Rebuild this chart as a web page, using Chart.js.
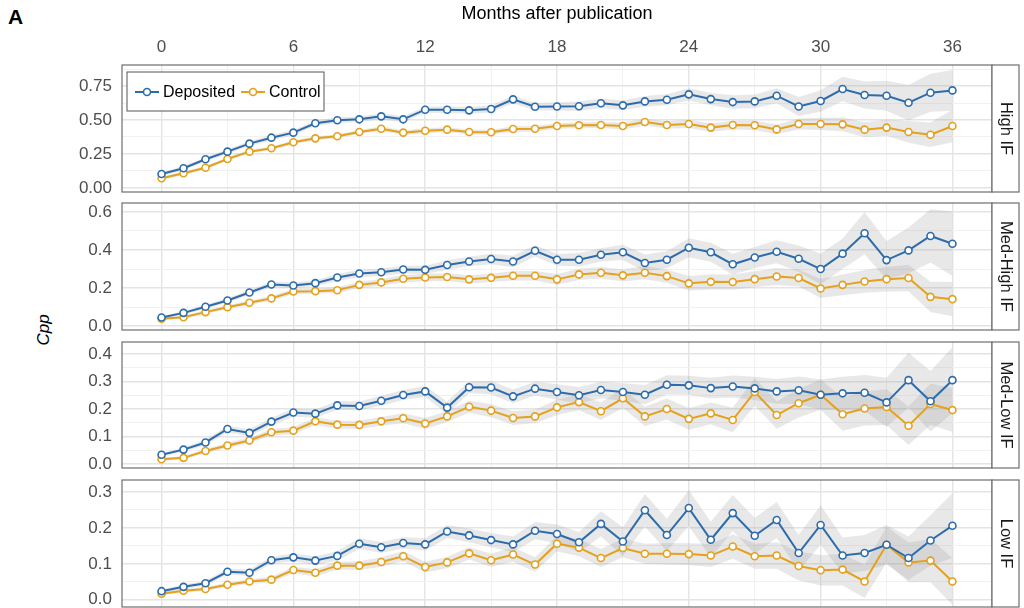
<!DOCTYPE html>
<html>
<head>
<meta charset="utf-8">
<script src="https://cdn.jsdelivr.net/npm/chart.js@4"></script>
<style>
  body { margin: 0; background: #fff; width: 1024px; height: 608px; overflow: hidden; position: relative; font-family: "Liberation Sans", Arial, sans-serif; }
  canvas { position: absolute; left: 0; }
  #tag { position: absolute; left: 8px; top: 5px; font-weight: bold; font-size: 21px; color: #000; }
  #ylab { position: absolute; left: 44px; top: 330px; font-style: italic; font-size: 17px; color: #000;
          transform: translate(-50%, -50%) rotate(-90deg); white-space: nowrap; }
</style>
</head>
<body>
<div id="tag">A</div>
<div id="ylab">Cpp</div>
<canvas id="p1" width="1024" height="200" style="top:0px"></canvas>
<canvas id="p2" width="1024" height="143" style="top:195px"></canvas>
<canvas id="p3" width="1024" height="142" style="top:334px"></canvas>
<canvas id="p4" width="1024" height="143" style="top:472px"></canvas>
<script>
// months after publication
const months = [0,1,2,3,4,5,6,7,8,9,10,11,12,13,14,15,16,17,18,19,20,21,22,23,24,25,26,27,28,29,30,31,32,33,34,35,36];
const xTicks = [0,3,6,9,12,15,18,21,24,27,30,33,36];
const xLabels = ['0','','6','','12','','18','','24','','30','','36'];

// High IF
const highDep = [0.103,0.145,0.211,0.267,0.326,0.370,0.407,0.476,0.498,0.505,0.527,0.505,0.576,0.576,0.571,0.581,0.652,0.598,0.600,
  0.601,0.623,0.608,0.637,0.649,0.689,0.654,0.632,0.637,0.679,0.600,0.640,0.728,0.684,0.679,0.627,0.701,0.718];
const highDepErr = [0.015,0.015,0.015,0.018,0.018,0.02,0.02,0.02,0.02,0.02,0.022,0.022,0.022,0.025,0.025,0.025,0.028,0.028,0.03,
  0.035,0.035,0.035,0.04,0.04,0.045,0.045,0.05,0.05,0.055,0.07,0.08,0.09,0.1,0.11,0.13,0.14,0.15];
const highCtl = [0.071,0.108,0.149,0.213,0.267,0.292,0.336,0.365,0.380,0.412,0.436,0.407,0.421,0.429,0.412,0.410,0.434,0.436,0.456,
  0.461,0.463,0.456,0.485,0.463,0.471,0.444,0.463,0.461,0.431,0.471,0.471,0.468,0.429,0.444,0.412,0.392,0.456];
const highCtlErr = [0.012,0.012,0.012,0.012,0.012,0.012,0.014,0.014,0.015,0.015,0.016,0.018,0.018,0.018,0.018,0.018,0.02,0.02,0.02,
  0.022,0.022,0.025,0.025,0.028,0.03,0.03,0.032,0.035,0.035,0.04,0.045,0.05,0.055,0.06,0.08,0.09,0.12];

// Med-High IF
const mhDep = [0.046,0.070,0.102,0.135,0.177,0.219,0.214,0.226,0.256,0.277,0.283,0.298,0.296,0.321,0.340,0.353,0.340,0.396,0.349,
  0.349,0.375,0.388,0.332,0.349,0.412,0.388,0.325,0.361,0.391,0.354,0.300,0.381,0.488,0.347,0.398,0.474,0.433];
const mhDepErr = [0.008,0.01,0.01,0.012,0.012,0.015,0.015,0.015,0.018,0.02,0.02,0.02,0.022,0.025,0.025,0.028,0.03,
  0.03,0.03,0.035,0.035,0.04,0.045,0.045,0.05,0.05,0.055,0.055,0.06,0.07,0.08,0.08,0.11,0.1,0.12,0.14,0.17];
const mhCtl = [0.039,0.047,0.074,0.100,0.123,0.146,0.182,0.184,0.189,0.217,0.230,0.249,0.256,0.258,0.246,0.254,0.265,0.265,0.246,
  0.272,0.281,0.267,0.281,0.263,0.225,0.233,0.232,0.247,0.261,0.253,0.198,0.217,0.235,0.247,0.253,0.154,0.142];
const mhCtlErr = [0.006,0.008,0.01,0.01,0.012,0.012,0.014,0.014,0.015,0.016,0.018,0.02,0.02,0.02,0.022,0.022,0.025,
  0.025,0.028,0.03,0.03,0.032,0.035,0.035,0.038,0.04,0.04,0.042,0.045,0.045,0.05,0.055,0.06,0.065,0.07,0.08,0.09];

// Med-Low IF
const mlDep = [0.033,0.052,0.078,0.127,0.113,0.154,0.187,0.183,0.213,0.211,0.230,0.251,0.264,0.205,0.279,0.278,0.246,0.274,0.262,
  0.250,0.269,0.262,0.252,0.288,0.286,0.276,0.282,0.275,0.264,0.268,0.252,0.257,0.259,0.224,0.305,0.228,0.305];
const mlDepErr = [0.006,0.008,0.01,0.012,0.012,0.014,0.015,0.015,0.016,0.016,0.018,0.018,0.02,0.022,0.022,0.024,0.025,
  0.025,0.028,0.03,0.03,0.032,0.035,0.035,0.035,0.038,0.04,0.042,0.045,0.05,0.055,0.06,0.065,0.09,0.1,0.11,0.12];
const mlCtl = [0.017,0.022,0.047,0.067,0.085,0.115,0.121,0.155,0.143,0.142,0.155,0.166,0.147,0.173,0.208,0.194,0.167,0.173,0.206,
  0.225,0.192,0.239,0.173,0.200,0.164,0.184,0.160,0.262,0.178,0.221,0.252,0.181,0.202,0.207,0.139,0.218,0.196];
const mlCtlErr = [0.005,0.006,0.008,0.01,0.01,0.012,0.012,0.014,0.014,0.015,0.016,0.018,0.02,0.02,0.022,0.024,0.025,
  0.025,0.028,0.03,0.032,0.035,0.035,0.038,0.04,0.04,0.045,0.05,0.05,0.052,0.055,0.06,0.062,0.065,0.07,0.075,0.08];

// Low IF
const lowDep = [0.024,0.036,0.046,0.078,0.075,0.110,0.118,0.109,0.122,0.156,0.146,0.158,0.154,0.190,0.179,0.166,0.154,0.192,0.183,
  0.160,0.211,0.162,0.249,0.180,0.255,0.167,0.241,0.178,0.222,0.130,0.208,0.123,0.130,0.153,0.116,0.165,0.206];
const lowDepErr = [0.005,0.006,0.007,0.008,0.009,0.01,0.011,0.012,0.013,0.015,0.015,0.016,0.017,0.018,0.019,0.02,0.022,
  0.024,0.026,0.028,0.035,0.04,0.045,0.045,0.05,0.05,0.05,0.05,0.05,0.05,0.055,0.05,0.05,0.055,0.06,0.07,0.09];
const lowCtl = [0.017,0.025,0.030,0.042,0.051,0.056,0.083,0.075,0.095,0.095,0.105,0.121,0.091,0.104,0.129,0.110,0.126,0.098,0.156,
  0.145,0.116,0.144,0.128,0.128,0.127,0.123,0.148,0.121,0.123,0.094,0.082,0.084,0.051,0.153,0.104,0.109,0.051];
const lowCtlErr = [0.004,0.005,0.005,0.006,0.007,0.008,0.009,0.01,0.011,0.012,0.013,0.014,0.015,0.016,0.017,0.018,0.02,
  0.02,0.022,0.024,0.025,0.026,0.028,0.03,0.03,0.032,0.034,0.035,0.037,0.04,0.042,0.044,0.046,0.05,0.055,0.06,0.065];

// y axes
const highTicks = [0, 0.25, 0.5, 0.75];
const highLabels = ['0.00', '0.25', '0.50', '0.75'];
const highMinor = [0.125, 0.375, 0.625, 0.875];
const mhTicks = [0, 0.2, 0.4, 0.6];
const mhLabels = ['0.0', '0.2', '0.4', '0.6'];
const mhMinor = [0.1, 0.3, 0.5];
const mlTicks = [0, 0.1, 0.2, 0.3, 0.4];
const mlLabels = ['0.0', '0.1', '0.2', '0.3', '0.4'];
const mlMinor = [0.05, 0.15, 0.25, 0.35];
const lowTicks = [0, 0.1, 0.2, 0.3];
const lowLabels = ['0.0', '0.1', '0.2', '0.3'];
const lowMinor = [0.05, 0.15, 0.25];

const blue = '#2d6cac';
const orange = '#e5a11c';
const ribbon = 'rgba(150,150,150,0.22)';
const frame = '#6e6e6e';

Chart.defaults.font.family = '"Liberation Sans", Arial, sans-serif';
Chart.defaults.animation = false;

const isMajor = (v, list) => list.some(t => Math.abs(t - v) < 1e-6);
const pts = (vals) => months.map((m, i) => ({ x: m, y: vals[i] }));
const band = (vals, err, sign) => months.map((m, i) => ({ x: m, y: vals[i] + sign * err[i] }));

const panelFrame = {
  id: 'panelFrame',
  afterDraw(chart, args, opts) {
    const { ctx, chartArea: a } = chart;
    ctx.save();
    ctx.strokeStyle = frame;
    ctx.lineWidth = 1.2;
    ctx.strokeRect(a.left, a.top, a.right - a.left, a.bottom - a.top);
    // facet strip on the right
    const w = 27;
    ctx.fillStyle = '#fff';
    ctx.fillRect(a.right, a.top, w, a.bottom - a.top);
    ctx.strokeRect(a.right, a.top, w, a.bottom - a.top);
    ctx.translate(a.right + w / 2, (a.top + a.bottom) / 2);
    ctx.rotate(Math.PI / 2);
    ctx.fillStyle = '#1a1a1a';
    ctx.font = '16.5px "Liberation Sans", Arial, sans-serif';
    ctx.textAlign = 'center';
    ctx.textBaseline = 'middle';
    ctx.fillText(opts.label, 0, 0);
    ctx.restore();
  }
};

const insideLegend = {
  id: 'insideLegend',
  afterDraw(chart, args, opts) {
    if (!opts.show) return;
    const { ctx, chartArea: a } = chart;
    const x0 = a.left + 5, y0 = a.top + 7;
    ctx.save();
    ctx.fillStyle = '#fff';
    ctx.fillRect(x0, y0, 197, 39);
    ctx.strokeStyle = '#555';
    ctx.lineWidth = 1;
    ctx.strokeRect(x0, y0, 197, 39);
    ctx.font = '16px "Liberation Sans", Arial, sans-serif';
    ctx.textBaseline = 'middle';
    let x = x0 + 8;
    const y = y0 + 20;
    chart.data.datasets.filter(d => d.inLegend).forEach(d => {
      ctx.strokeStyle = d.borderColor;
      ctx.lineWidth = 2;
      ctx.beginPath(); ctx.moveTo(x, y); ctx.lineTo(x + 24, y); ctx.stroke();
      ctx.beginPath(); ctx.arc(x + 12, y, 3.5, 0, Math.PI * 2);
      ctx.fillStyle = '#fff'; ctx.fill();
      ctx.lineWidth = 1.6; ctx.stroke();
      ctx.fillStyle = '#000';
      ctx.fillText(d.label, x + 28, y + 1);
      x += 28 + ctx.measureText(d.label).width + 6;
    });
    ctx.restore();
  }
};

function makePanel(id, label, dep, depErr, ctl, ctlErr, yMin, yMax, yMajor, yLab, yMinor, top) {
  const allY = yMajor.concat(yMinor).sort((a, b) => a - b);
  return new Chart(document.getElementById(id), {
    type: 'line',
    data: {
      datasets: [
        { data: band(dep, depErr, 1), fill: '+1', backgroundColor: ribbon, borderWidth: 0, pointRadius: 0, order: 2 },
        { data: band(dep, depErr, -1), fill: false, borderWidth: 0, pointRadius: 0, order: 2 },
        { data: band(ctl, ctlErr, 1), fill: '+1', backgroundColor: ribbon, borderWidth: 0, pointRadius: 0, order: 2 },
        { data: band(ctl, ctlErr, -1), fill: false, borderWidth: 0, pointRadius: 0, order: 2 },
        { label: 'Deposited', inLegend: true, data: pts(dep), borderColor: blue, borderWidth: 2, pointRadius: 3.5,
          pointBorderWidth: 1.6, pointBackgroundColor: '#fff', pointBorderColor: blue, order: 1 },
        { label: 'Control', inLegend: true, data: pts(ctl), borderColor: orange, borderWidth: 2, pointRadius: 3.5,
          pointBorderWidth: 1.6, pointBackgroundColor: '#fff', pointBorderColor: orange, order: 1 }
      ]
    },
    options: {
      responsive: false,
      layout: { padding: { top: top ? 0 : 8, bottom: 8, left: 0, right: 32 } },
      plugins: {
        legend: { display: false },
        tooltip: { enabled: false },
        panelFrame: { label: label },
        insideLegend: { show: top }
      },
      scales: {
        x: {
          type: 'linear', position: 'top', min: -1.8, max: 37.8,
          afterBuildTicks: s => { s.ticks = xTicks.map(v => ({ value: v })); },
          afterFit: s => { s.height = top ? 65 : 0; s.paddingLeft = 0; s.paddingRight = 0; },
          border: { display: false },
          grid: {
            drawTicks: false,
            color: c => c.tick && c.tick.value % 6 === 0 ? '#e4e4e4' : '#f1f1f1',
            lineWidth: c => c.tick && c.tick.value % 6 === 0 ? 1.4 : 1
          },
          ticks: {
            display: top, autoSkip: false, maxRotation: 0, padding: 7, color: '#4d4d4d',
            font: { size: 17 },
            callback: (v, i) => xLabels[i]
          },
          title: { display: top, text: 'Months after publication', color: '#000', font: { size: 18 }, padding: { top: 3 } }
        },
        y: {
          min: yMin, max: yMax,
          afterBuildTicks: s => { s.ticks = allY.map(v => ({ value: v })); },
          afterFit: s => { s.width = 122; s.paddingTop = 0; s.paddingBottom = 0; },
          border: { display: false },
          grid: {
            drawTicks: false,
            color: c => c.tick && isMajor(c.tick.value, yMajor) ? '#e4e4e4' : '#f1f1f1',
            lineWidth: c => c.tick && isMajor(c.tick.value, yMajor) ? 1.4 : 1
          },
          ticks: {
            autoSkip: false, padding: 10, color: '#4d4d4d', font: { size: 17 },
            callback: v => { const k = yMajor.findIndex(t => Math.abs(t - v) < 1e-6); return k >= 0 ? yLab[k] : ''; }
          }
        }
      }
    },
    plugins: [panelFrame, insideLegend]
  });
}

makePanel('p1', 'High IF', highDep, highDepErr, highCtl, highCtlErr, -0.03, 0.905, highTicks, highLabels, highMinor, true);
makePanel('p2', 'Med-High IF', mhDep, mhDepErr, mhCtl, mhCtlErr, -0.02, 0.647, mhTicks, mhLabels, mhMinor, false);
makePanel('p3', 'Med-Low IF', mlDep, mlDepErr, mlCtl, mlCtlErr, -0.015, 0.444, mlTicks, mlLabels, mlMinor, false);
makePanel('p4', 'Low IF', lowDep, lowDepErr, lowCtl, lowCtlErr, -0.02, 0.333, lowTicks, lowLabels, lowMinor, false);
</script>
</body>
</html>
